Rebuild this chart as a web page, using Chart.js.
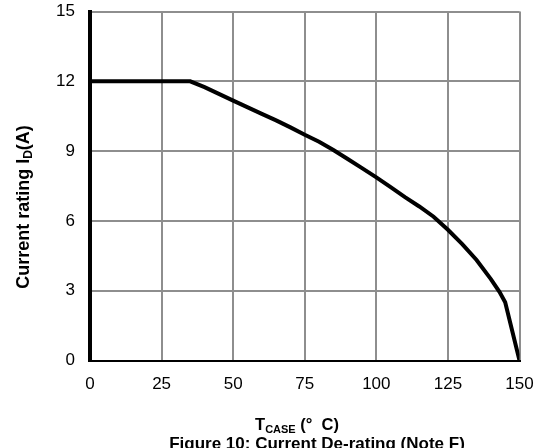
<!DOCTYPE html>
<html>
<head>
<meta charset="utf-8">
<title>Current De-rating</title>
<script src="https://cdn.jsdelivr.net/npm/chart.js@4.4.1/dist/chart.umd.min.js"></script>
<style>
  html, body { margin: 0; padding: 0; background: #fff; }
  #wrap { width: 541px; height: 448px; position: relative; }
</style>
</head>
<body>
<div id="wrap"><canvas id="derating"></canvas></div>
<script>
// case temperature (deg C) vs. allowed drain current (A)
const tCase = [0, 35, 40, 50, 60, 65, 70, 75, 80, 85, 90, 95, 100, 105, 110, 115, 120, 125, 130, 135, 140, 143, 145, 150];
const currentA = [12, 12, 11.75, 11.17, 10.6, 10.32, 10.02, 9.7, 9.4, 9.05, 8.66, 8.27, 7.87, 7.45, 7.02, 6.62, 6.18, 5.62, 5.0, 4.32, 3.5, 2.95, 2.5, 0];

const xTicks = [0, 25, 50, 75, 100, 125, 150];
const yTicks = [0, 3, 6, 9, 12, 15];

const FONT = "'Liberation Sans', Arial, sans-serif";

// draws text runs with optional subscripts, centred on (cx, y)
function richText(ctx, parts, cx, y, size) {
  const subSize = Math.round(size * 0.68);
  let total = 0;
  parts.forEach(p => {
    ctx.font = "bold " + (p.sub ? subSize : size) + "px " + FONT;
    p.w = ctx.measureText(p.t).width;
    total += p.w;
  });
  let x = cx - total / 2;
  ctx.textAlign = "left";
  ctx.textBaseline = "alphabetic";
  parts.forEach(p => {
    ctx.font = "bold " + (p.sub ? subSize : size) + "px " + FONT;
    ctx.fillText(p.t, x, p.sub ? y + 3 : y);
    x += p.w;
  });
}

const titles = {
  id: "titles",
  afterDraw(chart) {
    const ctx = chart.ctx;
    ctx.save();
    ctx.fillStyle = "#000";
    // x axis title and caption
    richText(ctx, [{ t: "T" }, { t: "CASE", sub: true }, { t: " (°  C)" }], 297, 430, 16.5);
    richText(ctx, [{ t: "Figure 10: Current De-rating (Note F)" }], 317, 449, 17);
    // y axis title, rotated
    ctx.translate(29, 207);
    ctx.rotate(-Math.PI / 2);
    richText(ctx, [{ t: "Current rating I" }, { t: "D", sub: true }, { t: "(A)" }], 0, 0, 18);
    ctx.restore();
  }
};

// keep tick labels from pushing the plot area inwards
function noLabelPadding(s) {
  s.paddingTop = 0;
  s.paddingBottom = 0;
  s.paddingLeft = 0;
  s.paddingRight = 0;
}

new Chart(document.getElementById("derating"), {
  type: "line",
  data: {
    datasets: [{
      data: tCase.map((t, i) => ({ x: t, y: currentA[i] })),
      borderColor: "#000",
      borderWidth: 4,
      pointRadius: 0,
      tension: 0,
      fill: false,
    }],
  },
  options: {
    responsive: true,
    maintainAspectRatio: false,
    animation: false,
    layout: { padding: { top: 11.5, right: 21.5, bottom: 0, left: 0 } },
    plugins: { legend: { display: false }, tooltip: { enabled: false } },
    scales: {
      x: {
        type: "linear",
        min: 0,
        max: 150,
        afterBuildTicks: s => { s.ticks = xTicks.map(v => ({ value: v })); },
        afterFit: s => { s.height = 87.5; noLabelPadding(s); },
        grid: { color: "#8e8e8e", lineWidth: 2, drawTicks: false },
        border: { color: "#000", width: 2 },
        ticks: { color: "#000", font: { family: FONT, size: 17 }, padding: 14, maxRotation: 0 },
      },
      y: {
        min: 0,
        max: 15,
        afterBuildTicks: s => { s.ticks = yTicks.map(v => ({ value: v })); },
        afterFit: s => { s.width = 90; noLabelPadding(s); },
        grid: { color: "#8e8e8e", lineWidth: 2, drawTicks: false },
        border: { color: "#000", width: 4 },
        ticks: { color: "#000", font: { family: FONT, size: 17 }, padding: 15 },
      },
    },
  },
  plugins: [titles],
});
</script>
</body>
</html>
